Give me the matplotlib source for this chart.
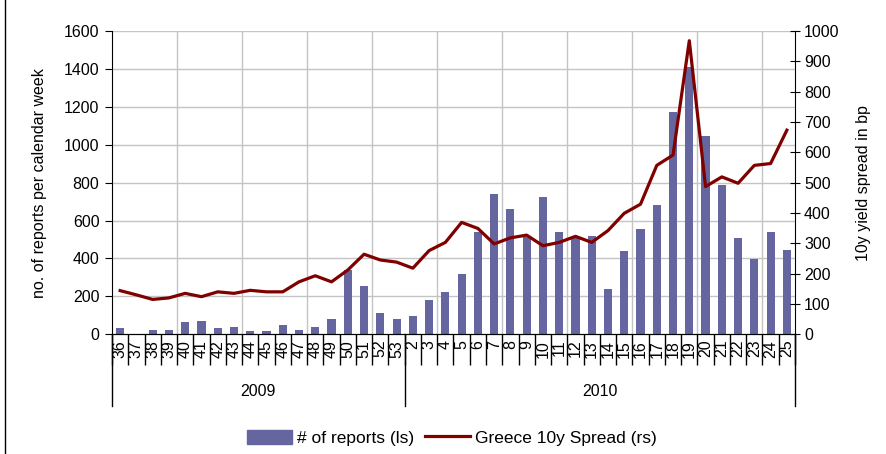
import numpy as np
import matplotlib
matplotlib.use('Agg')
import matplotlib.pyplot as plt
from matplotlib.lines import Line2D
from matplotlib.patches import Patch

plt.rcParams['font.family'] = ['Liberation Sans', 'DejaVu Sans']

# calendar weeks 36/2009 .. 25/2010
weeks = [str(w) for w in range(36, 54)] + [str(w) for w in range(2, 26)]
years = ['2009', '2010']
n_2009 = 18

reports = [35, 0, 23, 23, 65, 70, 33, 38, 17, 17, 49, 23, 38, 81, 340, 256, 112, 81,
           97, 181, 223, 318, 540, 740, 661, 515, 724, 540, 507, 518, 239, 439,
           555, 682, 1172, 1410, 1046, 787, 508, 397, 540, 445]

spread = [144, 130, 115, 120, 135, 124, 140, 135, 145, 140, 140, 173, 193, 173, 212, 264, 245, 238,
          218, 276, 303, 369, 349, 298, 318, 327, 292, 303, 323, 303, 342, 399,
          429, 557, 591, 968, 487, 519, 498, 557, 563, 673]

bar_color = '#6566a0'
line_color = '#800000'

fig = plt.figure(figsize=(8.87, 4.54), dpi=100)
ax = fig.add_axes([112/887, 1 - 334.3/454, (795 - 112)/887, (334.3 - 31)/454])
ax2 = ax.twinx()

x = np.arange(len(weeks))
ax.bar(x, reports, width=0.5, color=bar_color, zorder=2)
ax2.plot(x, spread, color=line_color, lw=2.3, zorder=3)

ax.set_xlim(-0.5, len(weeks) - 0.5)
ax.set_ylim(0, 1600)
ax.set_yticks(range(0, 1601, 200))
ax2.set_ylim(0, 1000)
ax2.set_yticks(range(0, 1001, 100))

# gridlines
for yv in range(200, 1601, 200):
    ax.axhline(yv, color='#c4c4c4', lw=1, zorder=0)
for xv in np.arange(3.5, len(weeks) - 1, 4):
    ax.axvline(xv, color='#c4c4c4', lw=1, zorder=0)

for sp in ['top']:
    ax.spines[sp].set_visible(False)
    ax2.spines[sp].set_visible(False)
ax2.spines['left'].set_visible(False)
ax.spines['right'].set_visible(False)

ax.tick_params(axis='y', direction='out', length=5, labelsize=11.5, pad=4)
ax2.tick_params(axis='y', direction='inout', length=7, labelsize=11.5, pad=3)

# category axis: labels + separators
ax.set_xticks(x)
ax.set_xticklabels(weeks, rotation=90, fontsize=11.5)
ax.tick_params(axis='x', which='major', length=0, pad=4)
ax.set_xticks(np.arange(-0.5, len(weeks), 1), minor=True)
ax.tick_params(axis='x', which='minor', length=22, width=1, color='black')

trans = ax.get_xaxis_transform()
for xv in [-0.5, n_2009 - 0.5, len(weeks) - 0.5]:
    ax.plot([xv, xv], [0, -0.235], color='black', lw=1, transform=trans, clip_on=False)
ax.text((n_2009 - 1) / 2, -0.19, years[0], transform=trans, ha='center', va='center', fontsize=11.5)
ax.text((n_2009 + len(weeks) - 1) / 2, -0.19, years[1], transform=trans, ha='center', va='center', fontsize=11.5)

ax.set_ylabel('no. of reports per calendar week', fontsize=11.5, labelpad=12)
ax2.set_ylabel('10y yield spread in bp', fontsize=11.5, labelpad=12)

handles = [Patch(color=bar_color), Line2D([], [], color=line_color, lw=2.3)]
fig.legend(handles, ['# of reports (ls)', 'Greece 10y Spread (rs)'], loc='center',
           bbox_to_anchor=(452/887, 1 - 438/454), ncol=2, frameon=False, fontsize=12.5,
           handlelength=2.6, handleheight=0.9, handletextpad=0.3, columnspacing=0.6)

fig.add_artist(Line2D([5/887, 5/887], [0, 1], color='black', lw=1))

fig.savefig('out.png', dpi=100)
